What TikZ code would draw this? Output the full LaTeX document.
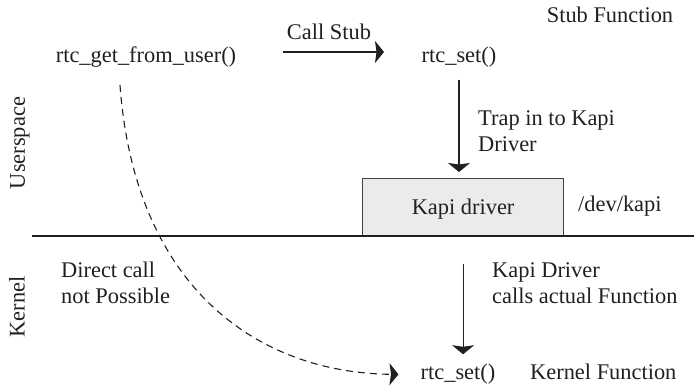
\documentclass[tikz,border=0pt]{standalone}
\usepackage{fontspec}
\setmainfont{Liberation Serif}
\usetikzlibrary{arrows.meta}
\definecolor{ink}{HTML}{231F20}
\definecolor{boxfill}{HTML}{EBEBEB}
\tikzset{
  lbl/.style={inner sep=0pt, text=ink, font=\fontsize{22.4}{26}\selectfont},
  arr/.style={draw=ink, line width=1.1pt, -{Stealth[length=9pt,width=22pt,inset=1.5pt]}},
  drvbox/.style={draw=ink!85, line width=1.2pt, fill=boxfill, minimum width=201pt, minimum height=58pt, inner sep=0pt},
  divider/.style={draw=ink, line width=1.1pt}
}
\begin{document}
\begin{tikzpicture}[x=1pt,y=-1pt]
\useasboundingbox (0,0) rectangle (694,387);
% nodes
\node[lbl, anchor=base] (get) at (146,63) {rtc\_get\_from\_user()};
\node[lbl, anchor=base] (stub) at (459,63) {rtc\_set()};
\node[lbl, anchor=base] (callstub) at (329,40) {Call Stub};
\node[lbl, anchor=base] (stubfn) at (610,23) {Stub Function};
\node[lbl, anchor=base west, align=left] (trap) at (478,152) {Trap in to Kapi\\Driver};
\node[drvbox, anchor=north west] (box) at (362,178) {};
\node[lbl, anchor=base] (kapi) at (box.center |- 0,215) {Kapi driver};
\node[lbl, anchor=base west] (devkapi) at (578,212) {/dev/kapi};
\node[lbl, rotate=90] (user) at (20,143) {Userspace};
\node[lbl, rotate=90] (kern) at (17,307) {Kernel};
\node[lbl, anchor=base west, align=left] (direct) at (61,304) {Direct call\\not Possible};
\node[lbl, anchor=base west, align=left] (kdrv) at (492,304) {Kapi Driver\\calls actual Function};
\node[lbl, anchor=base] (kset) at (458,380) {rtc\_set()};
\node[lbl, anchor=base west] (kfn) at (530,380) {Kernel Function};
% divider
\coordinate (dl) at (32,236);
\coordinate (dr) at (694,236);
\draw[divider] (dl) -- (dr);
% connectors
\coordinate (cs1) at (283,52);
\coordinate (cs2) at (384,52);
\draw[arr] (cs1) -- (cs2);
\draw[arr, shorten <=12pt, shorten >=6pt] (stub.south) -- (stub.south |- box.north);
\draw[arr, shorten <=27pt, shorten >=10pt] (box.south) -- (box.south |- kset.north);
\coordinate (dstart) at (120,85);
\draw[arr, dash pattern=on 7pt off 5pt, shorten >=22pt] (dstart) .. controls (135,290) and (260,373) .. (kset.west);
\end{tikzpicture}
\end{document}
